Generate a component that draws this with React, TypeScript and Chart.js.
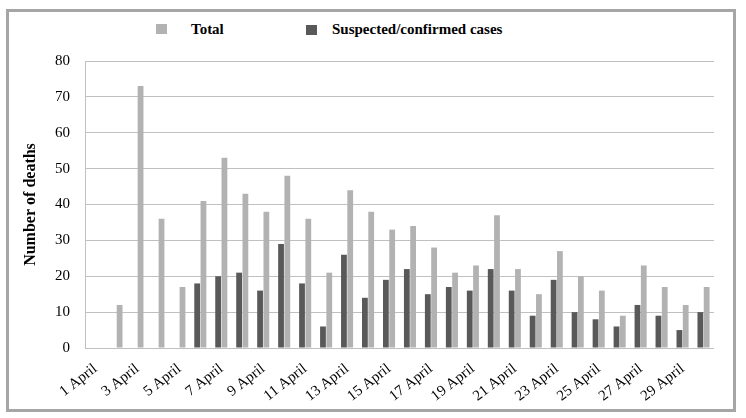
import React, { useEffect, useRef } from 'react';
import { Chart, registerables } from 'chart.js';

Chart.register(...registerables);

const categories = [
  '1 April', '2 April', '3 April', '4 April', '5 April', '6 April', '7 April', '8 April', '9 April', '10 April',
  '11 April', '12 April', '13 April', '14 April', '15 April', '16 April', '17 April', '18 April', '19 April', '20 April',
  '21 April', '22 April', '23 April', '24 April', '25 April', '26 April', '27 April', '28 April', '29 April', '30 April',
];

const totalDeaths = [
  null, 12, 73, 36, 17, 41, 53, 43, 38, 48,
  36, 21, 44, 38, 33, 34, 28, 21, 23, 37,
  22, 15, 27, 20, 16, 9, 23, 17, 12, 17,
];

const suspectedDeaths = [
  null, null, null, null, null, 18, 20, 21, 16, 29,
  18, 6, 26, 14, 19, 22, 15, 17, 16, 22,
  16, 9, 19, 10, 8, 6, 12, 9, 5, 10,
];

const seriesNames = ['Total', 'Suspected/confirmed cases'];
const yAxisTitle = 'Number of deaths';
const yMin = 0;
const yMax = 80;
const yStep = 10;

const LIGHT = '#b2b2b2';
const DARK = '#595959';
const GRID = '#c0c0c0';
const SERIF = '"Liberation Serif", "Times New Roman", serif';

export default function App() {
  const canvasRef = useRef<HTMLCanvasElement | null>(null);

  useEffect(() => {
    if (!canvasRef.current) return;
    const chart = new Chart(canvasRef.current, {
      type: 'bar',
      data: {
        labels: categories,
        datasets: [
          {
            label: seriesNames[1],
            data: suspectedDeaths,
            backgroundColor: DARK,
            borderWidth: 0,
            categoryPercentage: 0.6,
            barPercentage: 0.92,
          },
          {
            label: seriesNames[0],
            data: totalDeaths,
            backgroundColor: LIGHT,
            borderWidth: 0,
            categoryPercentage: 0.6,
            barPercentage: 0.92,
          },
        ],
      },
      options: {
        responsive: false,
        animation: false,
        devicePixelRatio: 1,
        layout: { padding: { left: 21, top: 61, right: 32, bottom: 0 } },
        plugins: {
          legend: { display: false },
          tooltip: { enabled: false },
        },
        scales: {
          x: {
            grid: { display: false, drawTicks: false },
            border: { display: false },
            ticks: {
              autoSkip: false,
              minRotation: 38,
              maxRotation: 38,
              padding: 12,
              color: '#000',
              font: { family: SERIF, size: 15 },
              callback: function (_v: any, i: number) {
                return i % 2 === 0 ? categories[i] : '';
              },
            },
            afterFit: (scale: any) => {
              scale.height = 70;
            },
          },
          y: {
            min: yMin,
            max: yMax,
            grid: { color: GRID, lineWidth: 1, drawTicks: false },
            border: { display: true, color: GRID, width: 1 },
            ticks: {
              stepSize: yStep,
              padding: 15,
              color: '#000',
              font: { family: SERIF, size: 15 },
            },
            title: {
              display: true,
              text: yAxisTitle,
              color: '#000',
              padding: 0,
              font: { family: SERIF, size: 16, weight: 'bold' },
            },
            afterFit: (scale: any) => {
              scale.width = 64;
            },
          },
        },
      },
    });
    return () => chart.destroy();
  }, []);

  const legendText: React.CSSProperties = {
    position: 'absolute',
    top: 21,
    fontFamily: SERIF,
    fontWeight: 'bold',
    fontSize: 15,
    lineHeight: '17px',
    color: '#000',
    whiteSpace: 'nowrap',
  };

  return (
    <div style={{ position: 'absolute', left: 0, top: 0, width: 746, height: 418, background: '#fff' }}>
      <div
        style={{
          position: 'absolute',
          left: 6,
          top: 9,
          width: 724,
          height: 397,
          border: '3px solid #a6a6a6',
        }}
      />
      <div style={{ position: 'absolute', left: 156, top: 24, width: 11, height: 10, background: LIGHT }} />
      <div style={{ ...legendText, left: 191 }}>{seriesNames[0]}</div>
      <div style={{ position: 'absolute', left: 306, top: 25, width: 11, height: 10, background: DARK }} />
      <div style={{ ...legendText, left: 332 }}>{seriesNames[1]}</div>
      <canvas
        ref={canvasRef}
        width={746}
        height={418}
        style={{ position: 'absolute', left: 0, top: 0, width: 746, height: 418 }}
      />
    </div>
  );
}
